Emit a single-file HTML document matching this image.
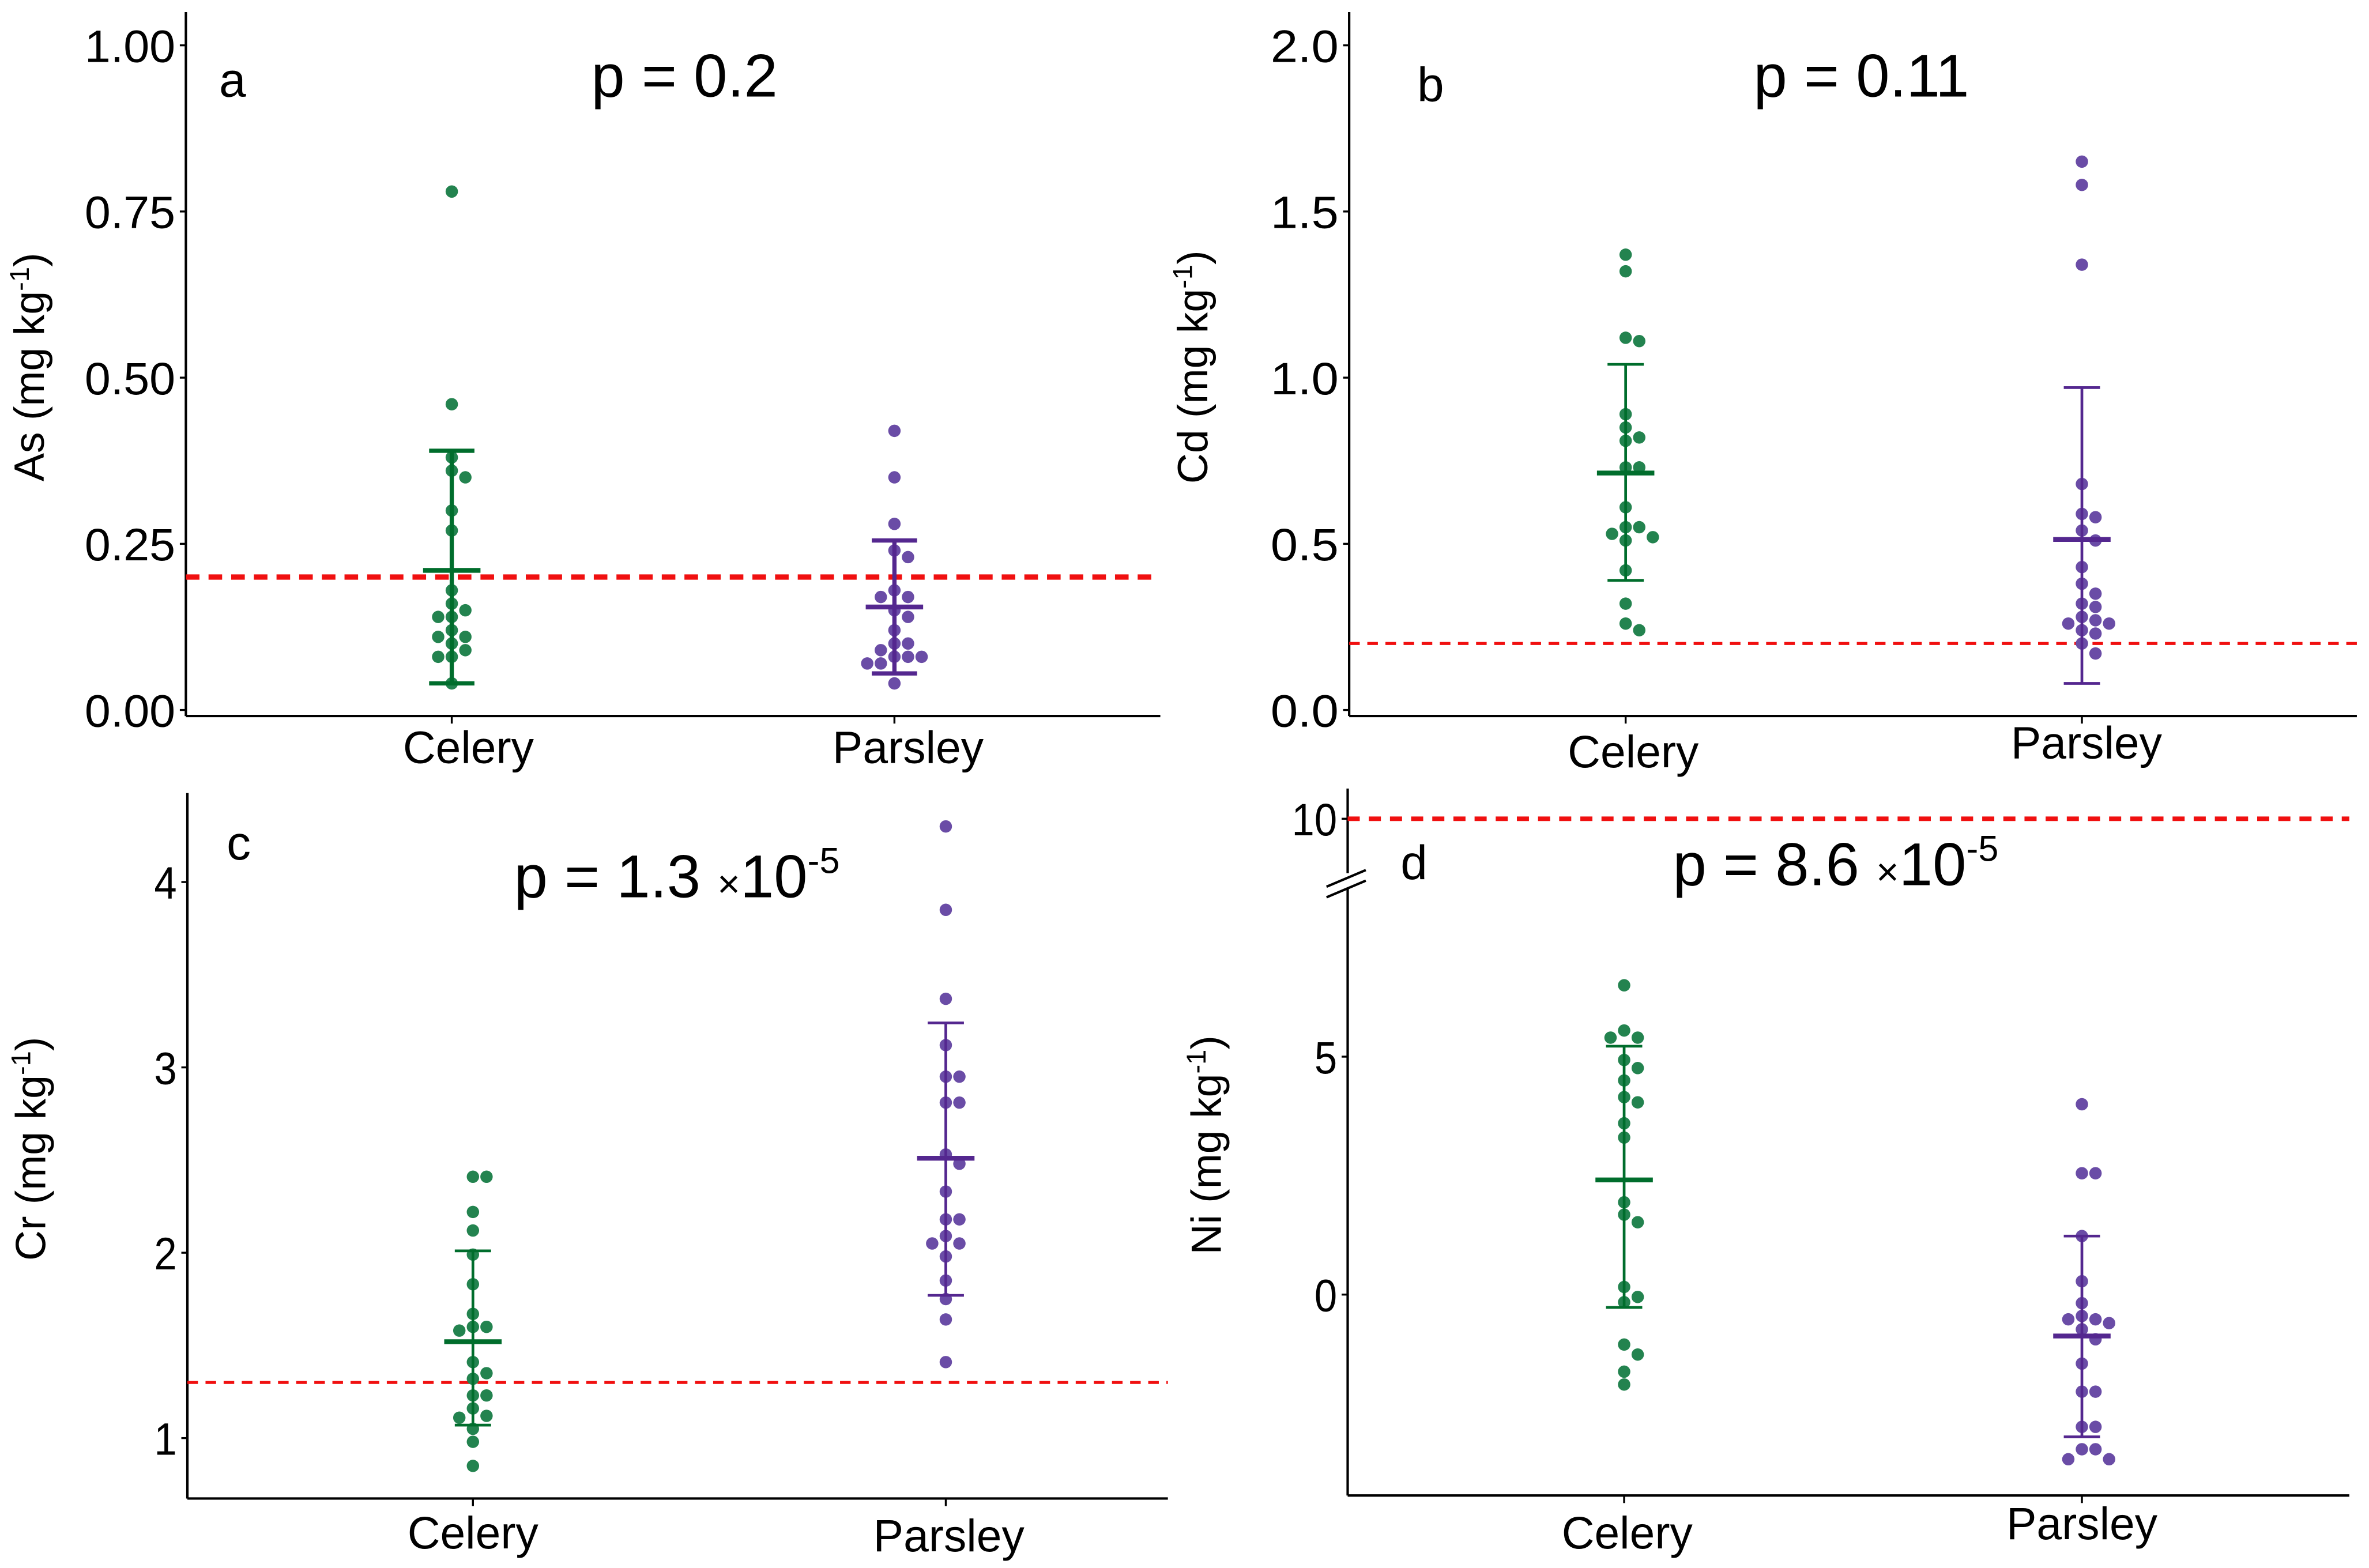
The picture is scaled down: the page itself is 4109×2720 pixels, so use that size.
<!DOCTYPE html>
<html><head><meta charset="utf-8"><style>
html,body{margin:0;padding:0;background:#fff}
svg{display:block}
text{font-family:"Liberation Sans",sans-serif;fill:#000}
</style></head><body>
<svg id="fig" width="4109" height="2720" viewBox="0 0 1568 1038" xmlns="http://www.w3.org/2000/svg"></svg>
<script>
const categories = ["Celery","Parsley"];
// Panel a: As
const asCelery = [0.78,0.46,0.38,0.36,0.35,0.30,0.27,0.18,0.16,0.15,0.14,0.14,0.12,0.11,0.11,0.10,0.09,0.08,0.08,0.04];
const asParsley = [0.42,0.35,0.28,0.24,0.23,0.18,0.17,0.17,0.15,0.14,0.12,0.10,0.10,0.09,0.08,0.08,0.08,0.07,0.07,0.04];
const asMean = [0.21,0.155];
const asLow = [0.04,0.055];
const asHigh = [0.39,0.255];
const asTicks = ["0.00","0.25","0.50","0.75","1.00"];
const asTickVals = [0,0.25,0.5,0.75,1.0];
const asLimit = 0.2;
// Panel b: Cd
const cdCelery = [1.37,1.32,1.12,1.11,0.89,0.85,0.82,0.81,0.73,0.73,0.61,0.55,0.55,0.53,0.52,0.51,0.42,0.32,0.26,0.24];
const cdParsley = [1.65,1.58,1.34,0.68,0.59,0.58,0.54,0.51,0.43,0.38,0.35,0.32,0.31,0.28,0.27,0.26,0.26,0.24,0.23,0.20,0.17];
const cdMean = [0.713,0.513];
const cdLow = [0.39,0.08];
const cdHigh = [1.04,0.97];
const cdTicks = ["0.0","0.5","1.0","1.5","2.0"];
const cdTickVals = [0,0.5,1.0,1.5,2.0];
const cdLimit = 0.2;
// Panel c: Cr
const crCelery = [2.41,2.41,2.22,2.12,1.99,1.83,1.67,1.60,1.60,1.58,1.41,1.35,1.32,1.23,1.23,1.16,1.12,1.11,1.05,0.98,0.85];
const crParsley = [4.30,3.85,3.37,3.12,2.95,2.95,2.81,2.81,2.53,2.48,2.33,2.18,2.18,2.09,2.05,2.05,1.98,1.85,1.75,1.64,1.41];
const crMean = [1.52,2.51];
const crLow = [1.07,1.77];
const crHigh = [2.01,3.24];
const crTicks = ["1","2","3","4"];
const crTickVals = [1,2,3,4];
const crLimit = 1.3;
// Panel d: Ni
const niCelery = [6.5,5.55,5.4,5.4,4.93,4.76,4.5,4.15,4.04,3.6,3.3,1.94,1.68,1.52,0.16,-0.05,-0.16,-1.05,-1.26,-1.62,-1.89];
const niParsley = [4.0,2.55,2.55,1.23,0.28,-0.18,-0.45,-0.52,-0.52,-0.6,-0.73,-0.94,-1.45,-2.04,-2.04,-2.78,-2.78,-3.25,-3.25,-3.46,-3.46];
const niMean = [2.41,-0.87];
const niLow = [-0.27,-2.99];
const niHigh = [5.22,1.23];
const niTicks = ["0","5","10"];
const niTickVals = [0,5,10];
const niLimit = 10;

const NS="http://www.w3.org/2000/svg";
const svg=document.getElementById('fig');
function mk(tag,attrs,parent){const e=document.createElementNS(NS,tag);for(const k in attrs)e.setAttribute(k,attrs[k]);(parent||svg).appendChild(e);return e;}

const panels=[
 {id:'a',letter:'a',elem:'As',ax:123,top:8,bottom:474,right:768,y:v=>470-v*440,cx:[299,592],s:[asCelery,asParsley],mean:asMean,lo:asLow,hi:asHigh,ticks:asTicks,tv:asTickVals,lim:asLimit,limW:3.5,dash:"9,6",
  p:["p = 0.2",null],px:453,py:64,lx:145,ly:64,xlx:[310,601],xly:[505,505],thick:true},
 {id:'b',letter:'b',elem:'Cd',ax:893,top:8,bottom:474,right:1560,y:v=>470-v*220,cx:[1076,1378],s:[cdCelery,cdParsley],mean:cdMean,lo:cdLow,hi:cdHigh,ticks:cdTicks,tv:cdTickVals,lim:cdLimit,limW:2,dash:"7,5",
  p:["p = 0.11",null],px:1232,py:64,lx:938,ly:67,xlx:[1081,1381],xly:[508,502]},
 {id:'c',letter:'c',elem:'Cr',ax:124,top:525,bottom:992,right:773,y:v=>952-(v-1)*122.7,cx:[313,626],s:[crCelery,crParsley],mean:crMean,lo:crLow,hi:crHigh,ticks:crTicks,tv:crTickVals,lim:crLimit,limW:2,dash:"7,5",
  p:["p = 1.3","-5"],px:448,py:594,lx:150,ly:569,xlx:[313,628],xly:[1025,1027]},
 {id:'d',letter:'d',elem:'Ni',ax:892,top:522,bottom:990,right:1555,y:v=>857-v*31.5,cx:[1075,1378],s:[niCelery,niParsley],mean:niMean,lo:niLow,hi:niHigh,ticks:niTicks,tv:niTickVals,lim:niLimit,limW:3,dash:"8,6",
  p:["p = 8.6","-5"],px:1215,py:586,lx:927,ly:582,xlx:[1077,1378],xly:[1025,1019],brk:true}
];
const ptCol=["#23834f","#6a4ca6"], barCol=["#006d2c","#54278f"];

panels.forEach(P=>{
  const g=mk('g',{});
  
  
  const ya=mk('line',{x1:P.ax,y1:P.top,x2:P.ax,y2:P.bottom,stroke:'#000','stroke-width':1.6},g);
  
  
  const xa=mk('line',{x1:P.ax,y1:P.bottom,x2:P.right,y2:P.bottom,stroke:'#000','stroke-width':1.6},g);
  
  
  P.tv.forEach((v,i)=>{
    const yy=P.y(v);
    mk('line',{x1:P.ax-4,y1:yy,x2:P.ax,y2:yy,stroke:'#000','stroke-width':1.3},g);
    const t=mk('text',{x:P.ax-7,y:yy+11,'text-anchor':'end','font-size':30,textLength:(P.ticks[i].length*15),lengthAdjust:'spacingAndGlyphs'},g);
    t.textContent=P.ticks[i];
    
    
  });
  categories.forEach((c,i)=>{
    mk('line',{x1:P.cx[i],y1:P.bottom,x2:P.cx[i],y2:P.bottom+5,stroke:'#000','stroke-width':1.3},g);
    const t=mk('text',{x:P.xlx[i],y:P.xly[i],'text-anchor':'middle','font-size':30},g);
    t.textContent=c;
    
    
  });
  const my=(P.top+P.bottom)/2+2;
  const tx=P.ax-94;
  const yt=mk('text',{x:0,y:0,transform:`translate(${P.id==='d'?tx+10:tx},${my}) rotate(-90)`,'text-anchor':'middle','font-size':28},g);
  yt.innerHTML=P.elem+' (mg kg<tspan dy="-10" font-size="18">-1</tspan><tspan dy="10">)</tspan>';
  
  
  const ll=mk('line',{x1:P.ax,y1:P.y(P.lim),x2:P.right,y2:P.y(P.lim),stroke:'#f01010','stroke-width':P.limW,'stroke-dasharray':P.dash},g);
  
  
  P.s.forEach((vals,i)=>{
    const placed=[];
    vals.forEach(v=>{
      const yy=P.y(v);
      const offs=[0,9,-9,18,-18,27,-27];
      let o=0;
      for(const c of offs){ if(!placed.some(p=>Math.abs(p.o-c)<8.5&&Math.abs(p.y-yy)<7.5)){o=c;break;} }
      placed.push({o:o,y:yy});
      const d=mk('circle',{cx:P.cx[i]+o,cy:yy,r:4.1,fill:ptCol[i]},g);
      
      
    });
    const bw=P.thick?2.8:1.8;
    const e=mk('line',{x1:P.cx[i],y1:P.y(P.lo[i]),x2:P.cx[i],y2:P.y(P.hi[i]),stroke:barCol[i],'stroke-width':bw},g);
    
    
    [P.lo[i],P.hi[i]].forEach(v=>{
      const cap=mk('line',{x1:P.cx[i]-(P.thick?15:12),y1:P.y(v),x2:P.cx[i]+(P.thick?15:12),y2:P.y(v),stroke:barCol[i],'stroke-width':bw},g);
      
      
    });
    const m=mk('line',{x1:P.cx[i]-19,y1:P.y(P.mean[i]),x2:P.cx[i]+19,y2:P.y(P.mean[i]),stroke:barCol[i],'stroke-width':3.2},g);
    
    
  });
  const L=mk('text',{x:P.lx,y:P.ly,'font-size':32},g);
  L.textContent=P.letter;
  
  
  const pt=mk('text',{x:P.px,y:P.py,'text-anchor':'middle','font-size':40},g);
  if(P.p[1]) pt.innerHTML=P.p[0]+' <tspan font-size="26">×</tspan>10<tspan dy="-16" font-size="24">'+P.p[1]+'</tspan>';
  else pt.textContent=P.p[0];
  
  
  if(P.brk){
    mk('rect',{x:P.ax-4,y:578,width:8,height:10,fill:'#fff'},g);
    const b1=mk('line',{x1:P.ax-14,y1:587,x2:P.ax+12,y2:576,stroke:'#000','stroke-width':1.6},g);
    
    
    mk('line',{x1:P.ax-14,y1:594,x2:P.ax+12,y2:583,stroke:'#000','stroke-width':1.6},g);
  }
});
</script>
</body></html>
